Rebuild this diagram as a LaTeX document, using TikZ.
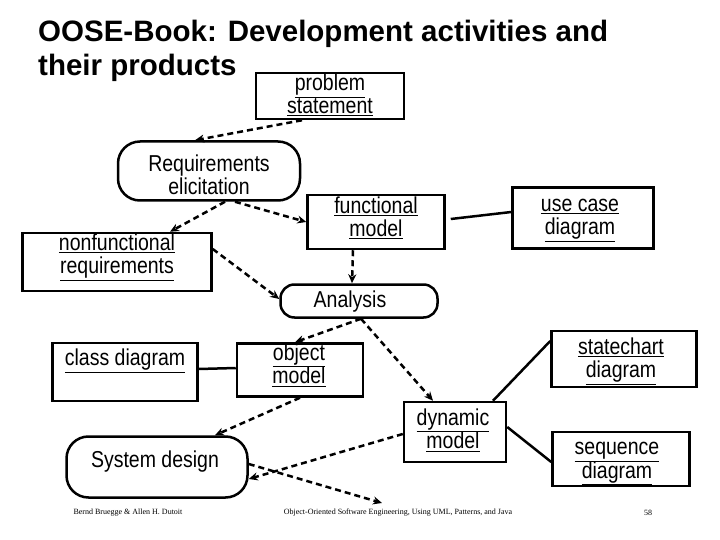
\documentclass[tikz,border=0pt]{standalone}
\usepackage{fontspec}
\usepackage{graphicx}
\setmainfont{Liberation Sans}
\usetikzlibrary{arrows.meta}
\newcommand{\ul}[1]{\underline{#1}}
\newcommand{\TT}[1]{\scalebox{1}[1.18]{\begin{tabular}{@{}c@{}}#1\end{tabular}}}
\begin{document}
\begin{tikzpicture}[x=1pt,y=-1pt,
 box/.style={draw,line width=2.5pt,align=center,inner sep=0pt},
 act/.style={box,rounded corners=22pt},
 tx/.style={font=\fontsize{19.5}{19}\selectfont,align=center,inner sep=0pt},
 dar/.style={line width=2.5pt,dash pattern=on 6pt off 4pt,-{Stealth[length=9pt,width=8pt]}},
 sol/.style={line width=2.5pt},
 foot/.style={font=\fontsize{8}{9}\selectfont\setmainfont{Liberation Serif}}]
\useasboundingbox (0,0) rectangle (720,540);
\node[anchor=north west,align=left,inner sep=0pt,font=\fontsize{29.5}{34}\selectfont\bfseries] (title) at (38,20) {OOSE-Book: Development activities and\\their products};
\node[box,minimum width=148pt,minimum height=46pt] (ps) at (330,96) {};
\node[tx] (pst) at (330,97) {\TT{\ul{problem}\\\ul{statement}}};
\node[act,minimum width=182pt,minimum height=59pt] (re) at (209,171) {};
\node[tx] (ret) at (209,178) {\TT{Requirements\\elicitation}};
\node[box,minimum width=137pt,minimum height=54pt] (fm) at (376,222) {};
\node[tx] (fmt) at (376,220) {\TT{\ul{functional}\\\ul{model}}};
\node[box,minimum width=141pt,minimum height=61pt] (uc) at (583,218) {};
\node[tx] (uct) at (580,219) {\TT{\ul{use case}\\\ul{diagram}}};
\node[box,minimum width=189pt,minimum height=58pt] (nf) at (117,262) {};
\node[tx] (nft) at (117,257) {\TT{\ul{nonfunctional}\\\ul{requirements}}};
\node[act,rounded corners=14pt,minimum width=157pt,minimum height=33pt] (an) at (359,301) {};
\node[tx] (ant) at (350,303) {\TT{Analysis}};
\node[box,minimum width=145pt,minimum height=58pt] (cd) at (125,372) {};
\node[tx] (cdt) at (125,361) {\TT{\ul{class diagram}}};
\node[box,minimum width=126pt,minimum height=53pt] (om) at (300,370) {};
\node[tx] (omt) at (299,367) {\TT{\ul{object}\\\ul{model}}};
\node[box,minimum width=145pt,minimum height=56pt] (sc) at (624,359) {};
\node[tx] (sct) at (621,361) {\TT{\ul{statechart}\\\ul{diagram}}};
\node[box,minimum width=102pt,minimum height=60pt] (dm) at (455,432) {};
\node[tx] (dmt) at (453,432) {\TT{\ul{dynamic}\\\ul{model}}};
\node[box,minimum width=137pt,minimum height=54pt] (sq) at (621,459) {};
\node[tx] (sqt) at (617,462) {\TT{\ul{sequence}\\\ul{diagram}}};
\node[act,minimum width=181pt,minimum height=61pt] (sd) at (157,467) {};
\node[tx] (sdt) at (155,463) {\TT{System design}};
\coordinate (free) at (382,503);
% connectors
\draw[dar] ([xshift=-28pt]ps.south) -- ([xshift=-14pt]re.north);
\draw[dar] ([xshift=16pt]re.south) -- ([xshift=53pt]nf.north);
\draw[dar] ([xshift=26pt]re.south) -- (fm.west);
\draw[dar] ([yshift=13pt]nf.east) -- ([yshift=2pt]an.west);
\draw[dar] ([xshift=-23pt]fm.south) -- ([xshift=-7pt]an.north);
\draw[dar] ([xshift=2pt]an.south) -- ([xshift=-5pt]om.north);
\draw[dar] ([xshift=2pt]an.south) -- ([xshift=-22pt]dm.north);
\draw[dar] (om.south) -- ([xshift=58pt]sd.north);
\draw[dar] ([yshift=-2pt]dm.west) -- ([yshift=-12pt]sd.east);
\draw[dar] ([yshift=3pt]sd.east) -- (free);
\draw[sol] ([xshift=5pt,yshift=3pt]fm.east) -- ([yshift=6pt]uc.west);
\draw[sol] ([yshift=3pt]cd.east) -- ([yshift=2pt]om.west);
\draw[sol] ([xshift=38pt]dm.north) -- ([yshift=18pt]sc.west);
\draw[sol] ([yshift=5pt]dm.east) -- ([yshift=-3pt]sq.west);
% footer
\node[foot] (f1) at (128,513) {Bernd Bruegge \& Allen H. Dutoit};
\node[foot] (f2) at (398,513) {Object-Oriented Software Engineering, Using UML, Patterns, and Java};
\node[foot] (f3) at (648,513) {58};
\end{tikzpicture}
\end{document}
